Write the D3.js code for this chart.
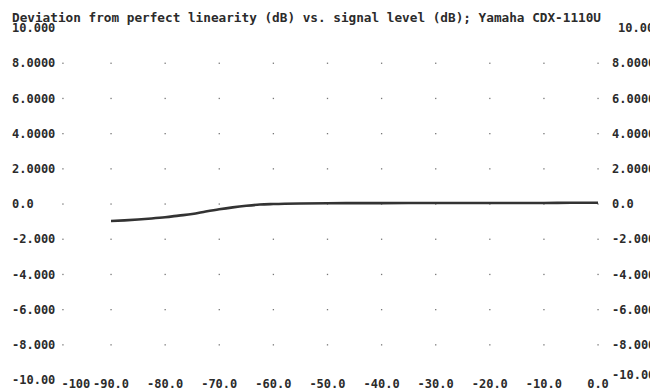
<!DOCTYPE html>
<html>
<head>
<meta charset="utf-8">
<script src="https://cdn.jsdelivr.net/npm/d3@7"></script>
<style>
  body { margin: 0; background: #fff; }
  svg { display: block; }
</style>
</head>
<body>
<div id="chart"></div>
<script>
const svgWidth = 650;
const svgHeight = 391;

// chart data
const titleText = "Deviation from perfect linearity (dB) vs. signal level (dB); Yamaha CDX-1110U";
const xTicks = [-100, -90, -80, -70, -60, -50, -40, -30, -20, -10, 0];
const xTickLabels = ["-100", "-90.0", "-80.0", "-70.0", "-60.0", "-50.0", "-40.0", "-30.0", "-20.0", "-10.0", "0.0"];
const yTicks = [10, 8, 6, 4, 2, 0, -2, -4, -6, -8, -10];
const yTickLabels = ["10.000", "8.0000", "6.0000", "4.0000", "2.0000", "0.0", "-2.000", "-4.000", "-6.000", "-8.000", "-10.00"];
const levels = [-90, -87.5, -85, -82.5, -80, -77.5, -75, -72.5, -70, -67.5, -65, -62.5, -60, -55, -50, -45, -40, -30, -20, -10, -5, 0];
const deviation = [-0.97, -0.93, -0.88, -0.82, -0.75, -0.66, -0.57, -0.43, -0.30, -0.19, -0.10, -0.03, 0.0, 0.03, 0.04, 0.05, 0.05, 0.06, 0.06, 0.06, 0.07, 0.07];

const x = d3.scaleLinear()
    .domain([-90, 0])
    .range([111, 598]);

const y = d3.scaleLinear()
    .domain([-10, 10])
    .range([380, 28]);

const svg = d3.select("#chart")
    .append("svg")
    .attr("width", svgWidth)
    .attr("height", svgHeight);

const font = "'DejaVu Sans Mono', 'Liberation Mono', monospace";
const ink = "#2b2b2b";

// faint dotted grid at tick crossings
const gridPts = [];
xTicks.forEach(xv => yTicks.slice(1, -1).forEach(yv => gridPts.push([xv, yv])));
svg.append("g")
    .selectAll("rect")
    .data(gridPts)
    .join("rect")
    .attr("x", d => x(d[0]) + (d[0] === -100 ? 6 : 0) - 0.6)
    .attr("y", d => y(d[1]) - 0.6)
    .attr("width", 1.3)
    .attr("height", 1.3)
    .attr("fill", "#777");

// title
svg.append("text")
    .attr("x", 12)
    .attr("y", 22)
    .attr("textLength", 589)
    .attr("lengthAdjust", "spacingAndGlyphs")
    .attr("font-family", font)
    .attr("font-size", "12px")
    .attr("font-weight", "bold")
    .attr("fill", ink)
    .text(titleText);

// left y labels
svg.append("g")
    .selectAll("text")
    .data(yTicks)
    .join("text")
    .attr("x", 12)
    .attr("y", d => y(d))
    .attr("dy", "0.35em")
    .attr("font-family", font)
    .attr("font-size", "12px")
    .attr("font-weight", "bold")
    .attr("fill", ink)
    .text((d, i) => yTickLabels[i]);

// right y labels (cut off by the page edge)
svg.append("g")
    .selectAll("text")
    .data(yTicks)
    .join("text")
    .attr("x", d => d === 10 ? 618 : 612)
    .attr("y", d => y(d))
    .attr("dy", d => d === -10 ? "-0.1em" : "0.35em")
    .attr("font-family", font)
    .attr("font-size", "12px")
    .attr("font-weight", "bold")
    .attr("fill", ink)
    .text((d, i) => yTickLabels[i]);

// x labels
svg.append("g")
    .selectAll("text")
    .data(xTicks)
    .join("text")
    .attr("x", d => d === -100 ? x(d) + 19 : x(d))
    .attr("y", y(-10) + 4)
    .attr("dy", "0.35em")
    .attr("text-anchor", "middle")
    .attr("font-family", font)
    .attr("font-size", "12px")
    .attr("font-weight", "bold")
    .attr("fill", ink)
    .text((d, i) => xTickLabels[i]);

// the measured curve
const line = d3.line()
    .x((d, i) => x(levels[i]))
    .y(d => y(d))
    .curve(d3.curveMonotoneX);

svg.append("path")
    .datum(deviation)
    .attr("d", line)
    .attr("fill", "none")
    .attr("stroke", "#333")
    .attr("stroke-width", 2.6);
</script>
</body>
</html>
